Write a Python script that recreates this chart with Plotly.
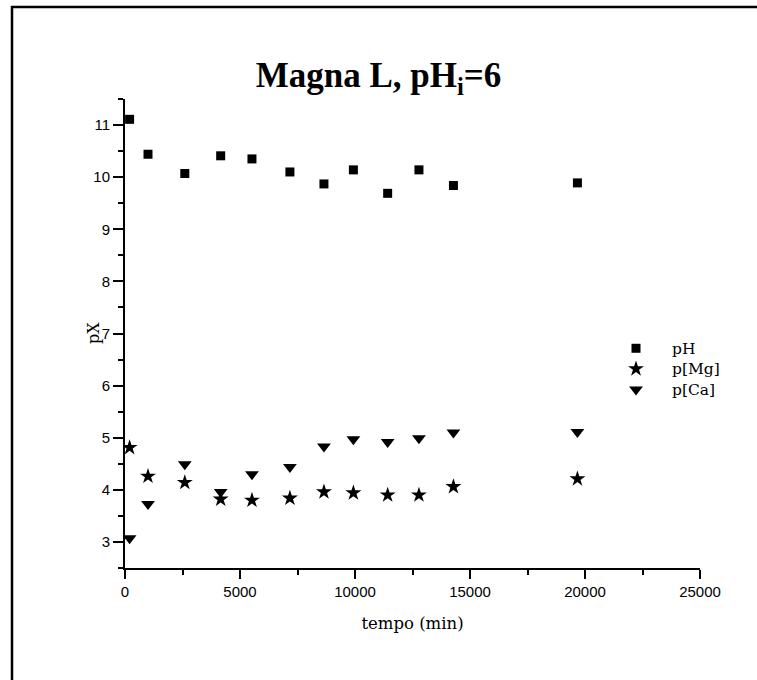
import base64
import plotly.graph_objects as go

tempo = [200, 1000, 2600, 4160, 5520, 7170, 8650, 9930, 11420, 12780, 14280, 19670]
pH = [11.11, 10.44, 10.07, 10.41, 10.35, 10.10, 9.87, 10.14, 9.69, 10.14, 9.84, 9.89]
pMg = [4.81, 4.26, 4.14, 3.82, 3.80, 3.84, 3.96, 3.94, 3.90, 3.90, 4.06, 4.21]
pCa = [3.07, 3.73, 4.49, 3.96, 4.30, 4.44, 4.83, 4.97, 4.92, 4.99, 5.10, 5.11]

x_ticks = [0, 5000, 10000, 15000, 20000, 25000]
x_ticktext = ["0", "5000", "10000", "15000", "20000", "25000"]
y_ticks = [3, 4, 5, 6, 7, 8, 9, 10, 11]
series_names = ["pH", "p[Mg]", "p[Ca]"]

serif = "Liberation Serif"
serif2 = "DejaVu Serif"
sans = "Liberation Sans"

def leg(name):
    return f"<span style='font-size:15.5px'>{name}</span>"

fig = go.Figure()
fig.add_trace(go.Scatter(x=tempo, y=pH, mode="markers", name=leg(series_names[0]),
                         marker=dict(symbol="square", size=9, color="black")))
fig.add_trace(go.Scatter(x=tempo, y=pMg, mode="markers", name=leg(series_names[1]),
                         marker=dict(symbol="star", size=12, color="black")))
fig.add_trace(go.Scatter(x=tempo, y=pCa, mode="markers", name=leg(series_names[2]),
                         marker=dict(symbol="triangle-down", size=12, color="black")))

W, H = 757, 680
L, R, T, B = 125, 57, 99, 112
pw, ph = W - L - R, H - T - B

def px2paper_x(px):
    return (px - L) / pw

def px2paper_y(py):
    return (H - B - py) / ph

axis_common = dict(showline=True, linecolor="black", linewidth=2, ticks="outside",
                   tickwidth=2, tickcolor="black", showgrid=False,
                   zeroline=False, mirror=False,
                   tickfont=dict(family=sans, size=15, color="black"))

fig.update_xaxes(range=[0, 25000], tickvals=x_ticks, ticktext=x_ticktext, ticklen=9,
                 minor=dict(dtick=2500, tick0=0, ticks="outside", ticklen=5, tickwidth=2,
                            tickcolor="black", showgrid=False),
                 title=dict(text="tempo (min)", font=dict(family=serif2, size=16.5, color="black"),
                            standoff=18),
                 **axis_common)
fig.update_yaxes(range=[2.5, 11.5], tickvals=y_ticks, ticklen=10,
                 minor=dict(dtick=0.5, tick0=0, ticks="outside", ticklen=5, tickwidth=2,
                            tickcolor="black", showgrid=False),
                 **axis_common)

fig.add_annotation(text="pX", textangle=-90, xref="paper", yref="paper",
                   x=px2paper_x(93), y=px2paper_y(333), xanchor="center", yanchor="middle",
                   showarrow=False, font=dict(family=serif2, size=16, color="black"))

# decorative frame (top and left edges of the original figure border)
frame_svg = (f"<svg xmlns='http://www.w3.org/2000/svg' width='{W}' height='{H}' viewBox='0 0 {W} {H}'>"
             f"<path d='M12 {H} L12 7 L{W} 7' fill='none' stroke='black' stroke-width='2.5'/></svg>")
frame_src = "data:image/svg+xml;base64," + base64.b64encode(frame_svg.encode()).decode()

fig.update_layout(
    width=W, height=H,
    margin=dict(l=L, r=R, t=T, b=B),
    paper_bgcolor="white", plot_bgcolor="white",
    title=dict(text="<b>Magna L, pH<sub>i</sub>=6</b>", x=0.5, xanchor="center",
               xref="container", y=1 - 75 / H, yanchor="middle", yref="container",
               font=dict(family=serif, size=35, color="black")),
    legend=dict(x=px2paper_x(600), y=px2paper_y(333), xanchor="left", yanchor="top",
                font=dict(family=serif2, size=13.5, color="black"),
                bgcolor="rgba(0,0,0,0)", itemwidth=62, tracegroupgap=0),
    showlegend=True,
    images=[dict(source=frame_src, xref="paper", yref="paper",
                 x=px2paper_x(0), y=px2paper_y(0), sizex=W / pw, sizey=H / ph,
                 xanchor="left", yanchor="top", sizing="stretch", layer="above")],
)

fig.write_html("out.html")
